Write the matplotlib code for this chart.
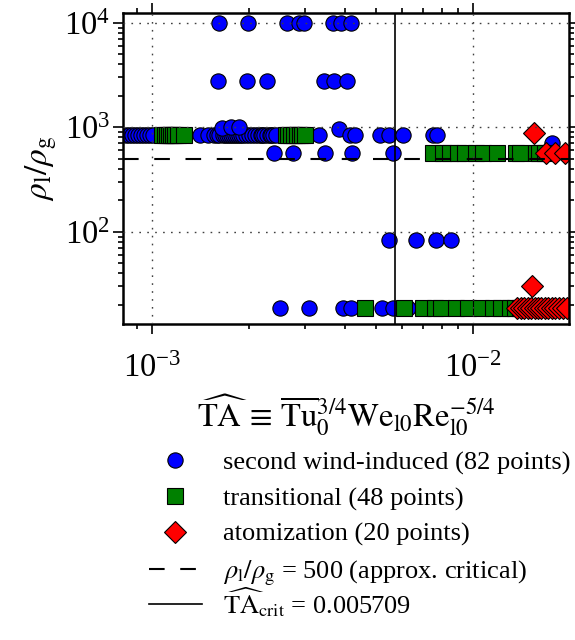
import matplotlib
matplotlib.use("Agg")
import matplotlib.pyplot as plt
from matplotlib.lines import Line2D

plt.rcParams["font.family"] = "serif"
plt.rcParams["font.serif"] = ["Liberation Serif", "DejaVu Serif"]
plt.rcParams["mathtext.fontset"] = "stix"

# second wind-induced regime (TA, rho_l/rho_g)
swi_ta = [
    8.30e-4, 8.48e-4, 8.66e-4, 8.85e-4, 9.04e-4, 9.24e-4, 9.44e-4, 9.65e-4, 9.86e-4, 1.007e-3,
    1.411e-3, 1.494e-3, 1.560e-3, 1.594e-3, 1.617e-3, 1.664e-3, 1.688e-3, 1.713e-3, 1.738e-3,
    1.762e-3, 1.788e-3, 1.814e-3, 1.840e-3, 1.866e-3, 1.893e-3, 1.921e-3, 1.963e-3, 2.005e-3,
    2.049e-3, 2.094e-3, 2.139e-3, 2.186e-3, 2.201e-3, 2.233e-3, 2.282e-3, 2.331e-3, 2.348e-3,
    2.382e-3, 2.434e-3,
    1.652e-3, 1.762e-3, 1.866e-3, 3.824e-3,
    3.313e-3, 4.139e-3, 4.290e-3, 5.132e-3, 5.474e-3, 6.052e-3, 7.505e-3, 7.724e-3,
    1.763e-2,
    1.617e-3, 1.991e-3, 2.634e-3, 2.870e-3, 2.975e-3, 3.664e-3, 3.879e-3, 4.169e-3,
    1.605e-3, 1.977e-3, 2.282e-3, 3.434e-3, 3.690e-3, 4.051e-3,
    2.399e-3, 2.750e-3, 3.459e-3, 4.199e-3, 5.633e-3,
    5.474e-3, 6.643e-3, 7.668e-3, 8.543e-3,
    2.505e-3, 3.085e-3, 3.936e-3, 4.169e-3, 5.206e-3, 5.633e-3, 6.273e-3,
]
swi_rho = (
    [840] * 39
    + [990, 1010, 1000, 960]
    + [840] * 8
    + [700]
    + [10000] * 8
    + [2760] * 6
    + [565] * 5
    + [83] * 4
    + [18.7] * 7
)

# transitional regime
tr_ta = [
    1.074e-3, 1.098e-3, 1.114e-3, 1.130e-3, 1.146e-3, 1.163e-3, 1.179e-3, 1.205e-3, 1.258e-3,
    2.615e-3, 2.653e-3, 2.710e-3, 2.769e-3, 2.829e-3, 2.891e-3, 2.933e-3, 2.997e-3,
    7.478e-3, 8.035e-3, 8.450e-3, 8.946e-3, 9.408e-3, 1.018e-2, 1.070e-2, 1.184e-2,
    1.357e-2, 1.396e-2, 1.566e-2, 1.600e-2, 1.676e-2,
    4.609e-3, 6.096e-3, 6.961e-3, 7.587e-3, 7.921e-3, 8.820e-3, 9.613e-3, 1.055e-2,
    1.150e-2, 1.218e-2, 1.299e-2, 1.351e-2, 1.401e-2, 1.452e-2, 1.505e-2, 1.561e-2,
    1.617e-2, 1.676e-2,
]
tr_rho = [840] * 17 + [565] * 13 + [18.7] * 18

# atomization regime
at_ta = [
    1.549e-2,
    1.688e-2, 1.801e-2, 1.935e-2,
    1.527e-2,
    1.371e-2, 1.411e-2, 1.442e-2, 1.484e-2, 1.516e-2, 1.561e-2, 1.594e-2, 1.629e-2,
    1.676e-2, 1.713e-2, 1.763e-2, 1.801e-2, 1.853e-2, 1.907e-2, 1.963e-2,
]
at_rho = [876] + [565] * 3 + [30] + [18.7] * 15

rho_crit = 500
ta_crit = 0.005709

fig = plt.figure(figsize=(5.75, 6.4), dpi=100)
ax = fig.add_axes([0.2139, 0.4938, 0.7757, 0.4859])

ax.plot(swi_ta, swi_rho, "o", color="blue", mec="black", mew=0.8, ms=11)
ax.plot(tr_ta, tr_rho, "s", color="green", mec="black", mew=0.8, ms=11)
ax.plot(at_ta, at_rho, "D", color="red", mec="black", mew=0.8, ms=11)
ax.axhline(rho_crit, color="black", lw=1.5, dashes=(7.5, 7.5))
ax.axvline(ta_crit, color="black", lw=1.2)

ax.set_xscale("log")
ax.set_yscale("log")
ax.set_xlim(8.12e-4, 1.99e-2)
ax.set_ylim(13.1, 12400)

ax.grid(True, which="major", color="0.25", linestyle=(0, (1.2, 4.5)), linewidth=1.0)
ax.set_axisbelow(False)
for s in ax.spines.values():
    s.set_linewidth(1.8)

ax.tick_params(which="both", direction="out", top=True, right=True, width=1.2)
ax.tick_params(which="major", length=7, labelsize=23.5)
ax.tick_params(which="minor", length=3.5)
ax.tick_params(axis="x", which="major", pad=14)
ax.tick_params(axis="y", which="major", pad=2)

ax.set_xlabel(r"$\widehat{\mathrm{TA}}\,\equiv\,\overline{\mathrm{Tu}}_0^{3/4}\mathrm{We}_{\mathrm{l0}}\mathrm{Re}_{\mathrm{l0}}^{-5/4}$",
              fontsize=23.5, labelpad=6)
ax.set_ylabel(r"$\rho_\mathrm{l}/\rho_\mathrm{g}$", fontsize=24, labelpad=4)

handles = [
    Line2D([], [], ls="", marker="o", color="blue", mec="black", mew=0.8, ms=11),
    Line2D([], [], ls="", marker="s", color="green", mec="black", mew=0.8, ms=11),
    Line2D([], [], ls="", marker="D", color="red", mec="black", mew=0.8, ms=11),
    Line2D([], [], color="black", lw=1.5, dashes=(7.5, 7.5)),
    Line2D([], [], color="black", lw=1.2),
]
labels = [
    "second wind-induced (82 points)",
    "transitional (48 points)",
    "atomization (20 points)",
    r"$\rho_\mathrm{l}/\rho_\mathrm{g}$ = 500 (approx. critical)",
    r"$\widehat{\mathrm{TA}}_\mathrm{crit}$ = 0.005709",
]
leg_kw = dict(frameon=False, fontsize=19, handlelength=2.0, handletextpad=0.8,
              labelspacing=0.45, borderpad=0, borderaxespad=0, numpoints=1)
# the hat makes the last row taller, so it gets its own legend to keep even spacing
fig.legend(handles[:4], labels[:4], loc="upper left", bbox_to_anchor=(0.259, 0.2953), **leg_kw)
fig.legend(handles[4:], labels[4:], loc="upper left", bbox_to_anchor=(0.259, 0.0859), **leg_kw)

fig.savefig("out.png", dpi=100)
